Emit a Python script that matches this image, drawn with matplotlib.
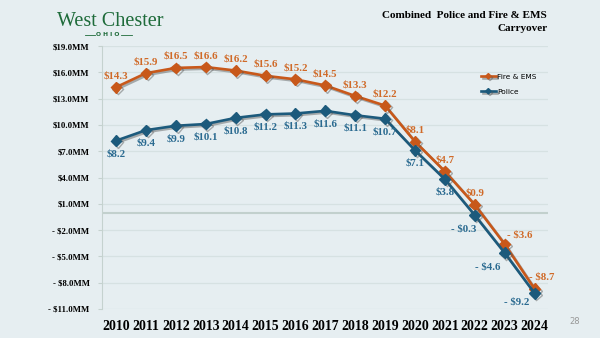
import numpy as np
import matplotlib
matplotlib.use("Agg")
import matplotlib.pyplot as plt
import matplotlib.patheffects as pe

years = list(range(2010, 2025))
fire_ems = [14.3, 15.9, 16.5, 16.6, 16.2, 15.6, 15.2, 14.5, 13.3, 12.2, 8.1, 4.7, 0.9, -3.6, -8.7]
police = [8.2, 9.4, 9.9, 10.1, 10.8, 11.2, 11.3, 11.6, 11.1, 10.7, 7.1, 3.8, -0.3, -4.6, -9.2]
yticks = [19, 16, 13, 10, 7, 4, 1, -2, -5, -8, -11]

bg = "#e6eef1"
orange = "#c8581a"
blue = "#1c5a7c"
orange_txt = "#d06a28"
blue_txt = "#2a6a90"
serif = ["Liberation Serif", "DejaVu Serif"]


def money(v):
    return ("- $%.1f" % abs(v)) if v < 0 else ("$%.1f" % v)


fig = plt.figure(figsize=(6, 3.38), dpi=100, facecolor=bg)
ax = fig.add_axes([102 / 600, 1 - 309 / 338, 446 / 600, 263 / 338])
ax.set_facecolor(bg)

ax.set_xlim(2009.53, 2024.45)
ax.set_ylim(-11, 19)
ax.set_yticks(yticks)
ax.set_yticklabels([("- $%.1fMM" % abs(t)) if t < 0 else ("$%.1fMM" % t) for t in yticks],
                   fontfamily=serif, fontweight="bold", fontsize=6.3)
ax.set_xticks(years)
ax.set_xticklabels([str(y) for y in years], fontfamily=serif, fontweight="bold", fontsize=10)
ax.tick_params(axis="x", length=0, pad=8)
ax.tick_params(axis="y", length=3, color="#c5d2cf", pad=6)

ax.grid(axis="y", color="#d6e1e2", linewidth=0.9)
ax.set_axisbelow(True)
for s in ["top", "right", "bottom"]:
    ax.spines[s].set_visible(False)
ax.spines["left"].set_color("#c5d2cf")
ax.axhline(0, color="#c2d0cd", linewidth=1.5, zorder=1)

shadow = [pe.SimpleLineShadow(offset=(1.2, -1.2), shadow_color="#555555", alpha=0.45), pe.Normal()]
ax.plot(years, fire_ems, color=orange, lw=1.9, marker="D", ms=5.5, label="Fire & EMS",
        path_effects=shadow, zorder=3)
ax.plot(years, police, color=blue, lw=1.9, marker="D", ms=5.5, label="Police",
        path_effects=shadow, zorder=3)

for x, v in zip(years, fire_ems):
    dx, dy = (0, 5)
    if x == 2023:
        dx, dy = (11, 3)
    elif x == 2024:
        dx, dy = (5, 5)
    ax.annotate(money(v), (x, v), xytext=(dx, dy), textcoords="offset points",
                ha="center", va="bottom", color=orange_txt, fontsize=7.8,
                fontfamily=serif, fontweight="bold")

for x, v in zip(years, police):
    dx, dy = (0, -6)
    if x == 2022:
        dx, dy = (-8, -7)
    elif x == 2023:
        dx, dy = (-12, -7)
    elif x == 2024:
        dx, dy = (-13, -3)
    ax.annotate(money(v), (x, v), xytext=(dx, dy), textcoords="offset points",
                ha="center", va="top", color=blue_txt, fontsize=7.8,
                fontfamily=serif, fontweight="bold")

leg = ax.legend(loc="upper left", bbox_to_anchor=(0.835, 0.92), frameon=False,
                fontsize=5.3, handlelength=2.0, markerscale=0.5, labelspacing=1.2,
                handletextpad=0.2)

fig.text(0.912, 0.955, "Combined  Police and Fire & EMS", ha="right", va="center",
         fontfamily=serif, fontweight="bold", fontsize=8)
fig.text(0.912, 0.915, "Carryover", ha="right", va="center",
         fontfamily=serif, fontweight="bold", fontsize=8)

fig.text(110 / 600, 1 - 22 / 338, "West Chester", ha="center", va="center",
         fontfamily=serif, fontsize=14.5, color="#1e6b3a")
fig.text(108 / 600, 1 - 35 / 338, "O H I O", ha="center", va="center",
         fontfamily="DejaVu Sans", fontweight="bold", fontsize=4.3, color="#1e6b3a")
fig.add_artist(plt.Line2D([85 / 600, 95 / 600], [1 - 35 / 338] * 2, color="#1e6b3a", lw=0.6))
fig.add_artist(plt.Line2D([121 / 600, 132 / 600], [1 - 35 / 338] * 2, color="#1e6b3a", lw=0.6))

fig.text(575 / 600, 1 - 322 / 338, "28", ha="center", va="center", fontsize=6, color="#999999")

fig.savefig("out.png", dpi=100, facecolor=bg)
